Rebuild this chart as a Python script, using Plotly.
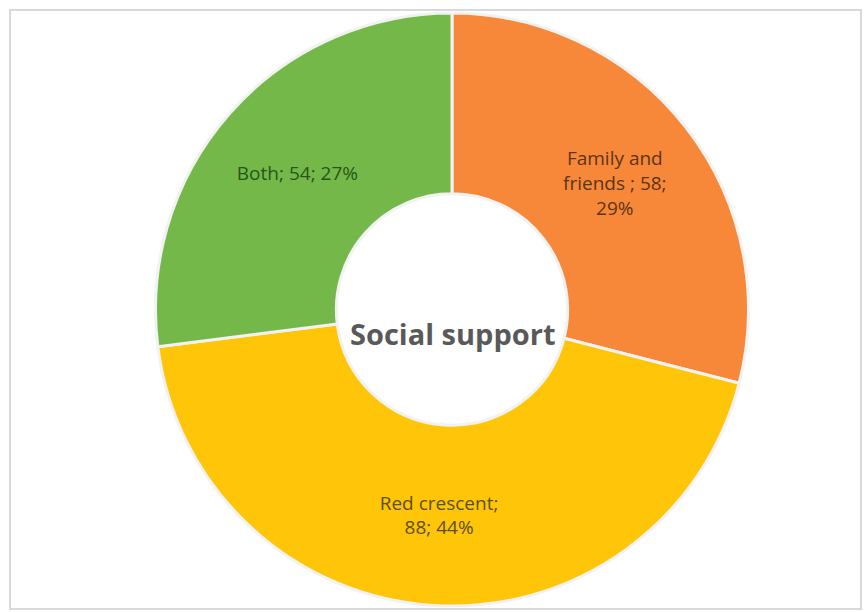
import plotly.graph_objects as go

categories = ["Family and friends", "Red crescent", "Both"]
values = [58, 88, 54]
display_labels = ["Family and<br>friends ;", "Red crescent;<br>", "Both;"]
colors = ["#F7883A", "#FFC508", "#74B84A"]
text_colors = ["#5E3413", "#5E5010", "#2A5418"]
center_title = "Social support"

tmpl = [
    "%{text} %{value};<br>%{percent:.0%}",
    "%{text}%{value}; %{percent:.0%}",
    "%{text} %{value}; %{percent:.0%}",
]

fig = go.Figure(go.Pie(
    labels=categories,
    values=values,
    text=display_labels,
    texttemplate=tmpl,
    textinfo="text",
    hole=0.39,
    sort=False,
    direction="clockwise",
    rotation=0,
    marker=dict(colors=colors, line=dict(color="#F2F2F2", width=3)),
    textposition="inside",
    insidetextorientation="horizontal",
    textfont=dict(family="Open Sans", size=19, color=text_colors),
    domain=dict(x=[152/864, 752/864], y=[1-606/612, 1-13/612]),
    showlegend=False,
))

fig.add_annotation(
    text="<b>" + center_title + "</b>",
    x=(152+752)/2/864, y=1-333/612, xref="paper", yref="paper",
    showarrow=False, font=dict(family="Open Sans", size=29, color="#595959"),
)

fig.add_shape(type="rect", xref="paper", yref="paper",
              x0=10/864, x1=861/864, y0=1-609/612, y1=1-10/612,
              line=dict(color="#D9D9D9", width=2))

fig.update_layout(
    width=864, height=612,
    margin=dict(l=0, r=0, t=0, b=0),
    paper_bgcolor="white", plot_bgcolor="white",
)

fig.write_html("out.html")
